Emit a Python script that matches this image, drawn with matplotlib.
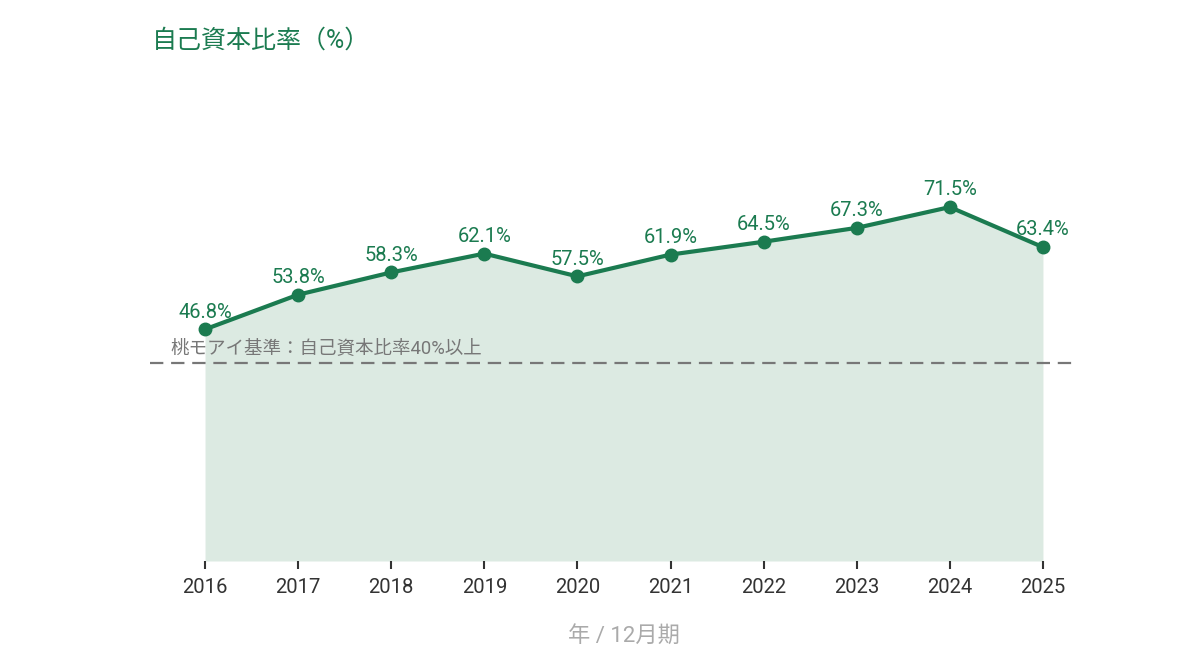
import matplotlib
matplotlib.use("Agg")
import matplotlib.pyplot as plt

plt.rcParams['font.family'] = ['Roboto', 'Noto Sans CJK JP', 'DejaVu Sans']

years = [2016, 2017, 2018, 2019, 2020, 2021, 2022, 2023, 2024, 2025]
ratio = [46.8, 53.8, 58.3, 62.1, 57.5, 61.9, 64.5, 67.3, 71.5, 63.4]
threshold = 40
title = "自己資本比率（%）"
threshold_label = "桃モアイ基準：自己資本比率40%以上"
xlabel = "年 / 12月期"

green = "#1b7b50"
fill_c = "#dceae2"

fig = plt.figure(figsize=(12, 6.6), dpi=100)
ax = fig.add_axes([0.125, 0.15, 0.7733, 0.6])

ax.fill_between(years, ratio, 0, color=fill_c, lw=0, zorder=1)
ax.plot(years, ratio, color=green, lw=3, marker='o', ms=9, zorder=3)
ax.axhline(threshold, color="#777777", lw=1.6, ls=(0, (6, 3.5)), zorder=2)

for x, v in zip(years, ratio):
    ax.annotate(f"{v}%", (x, v), xytext=(0, 8.5), textcoords='offset points',
                ha='center', va='baseline', color=green, fontsize=14.5)

ax.text(2016 - 0.376, threshold + 2.0, threshold_label, color="#777777",
        fontsize=13.3, ha='left', va='baseline')

ax.set_xlim(2015.409, 2025.376)
ax.set_ylim(0, 80)
ax.set_xticks(years)
ax.set_xticklabels([str(y) for y in years], fontsize=14.6, color="#333333")
ax.set_yticks([])
for s in ax.spines.values():
    s.set_visible(False)
ax.tick_params(axis='x', length=6, width=1.5, color="#333333", pad=6)

fig.text(152/1200, 1 - 41/660, title, color=green, fontsize=18, ha='left', va='center')
fig.text((205 + 1043) / 2 / 1200, 1 - 636/660, xlabel, color="#aaaaaa", fontsize=16,
         ha='center', va='center')

fig.savefig("out.png", dpi=100, facecolor='white')
